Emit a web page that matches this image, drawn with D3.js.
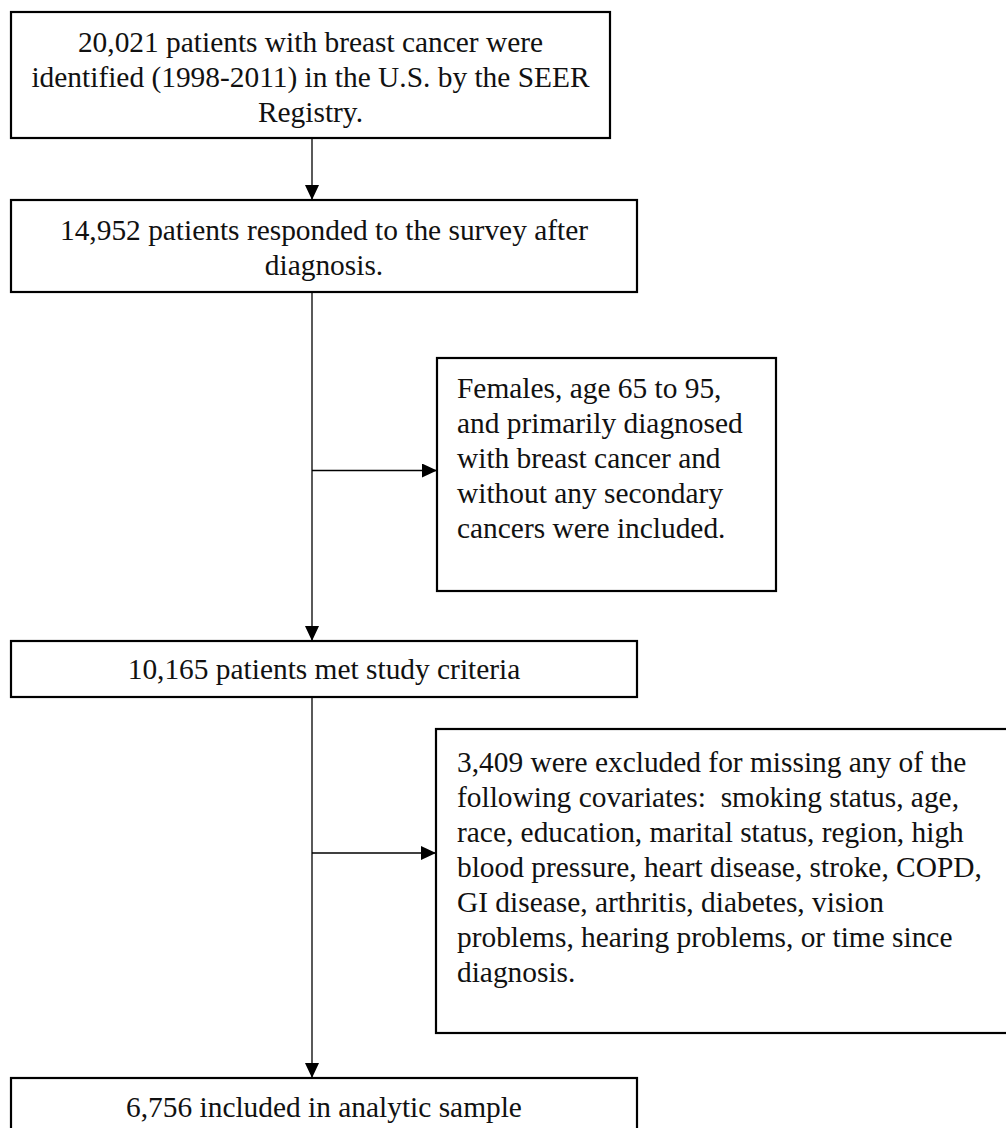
<!DOCTYPE html>
<html>
<head>
<meta charset="utf-8">
<script src="https://cdn.jsdelivr.net/npm/d3@7"></script>
<style>
html,body{margin:0;padding:0;background:#fff;overflow:hidden;}
svg text{font-family:"Liberation Serif","Times New Roman",serif;font-size:29.4px;fill:#111;white-space:pre;}
</style>
</head>
<body>
<svg id="c" width="1006" height="1128"></svg>
<script>
// ---- content ----
const box1Lines = ["20,021 patients with breast cancer were", "identified (1998-2011) in the U.S. by the SEER", "Registry."];
const box2Lines = ["14,952 patients responded to the survey after", "diagnosis."];
const side1Lines = ["Females, age 65 to 95,", "and primarily diagnosed", "with breast cancer and", "without any secondary", "cancers were included."];
const box3Lines = ["10,165 patients met study criteria"];
const side2Lines = ["3,409 were excluded for missing any of the", "following covariates:  smoking status, age,", "race, education, marital status, region, high", "blood pressure, heart disease, stroke, COPD,", "GI disease, arthritis, diabetes, vision", "problems, hearing problems, or time since", "diagnosis."];
const box4Lines = ["6,756 included in analytic sample"];

// ---- layout ----
const svg = d3.select("#c");
const lineH = 35;
const spineX = 312;
const boxes = [
  {lines: box1Lines, x0: 11, x1: 610, y0: 12, y1: 138, align: "middle", ty: 42},
  {lines: box2Lines, x0: 11, x1: 637, y0: 200, y1: 292, align: "middle", ty: 230},
  {lines: side1Lines, x0: 437, x1: 776, y0: 358, y1: 591, align: "start", ty: 388, tx: 457},
  {lines: box3Lines, x0: 11, x1: 637, y0: 641, y1: 697, align: "middle", ty: 669},
  {lines: side2Lines, x0: 436, x1: 1012, y0: 729, y1: 1033, align: "start", ty: 762, tx: 457},
  {lines: box4Lines, x0: 11, x1: 637, y0: 1078, y1: 1140, align: "middle", ty: 1107}
];

const defs = svg.append("defs");
defs.append("marker").attr("id", "ah")
  .attr("viewBox", "0 0 15 14").attr("refX", 15).attr("refY", 7)
  .attr("markerWidth", 15).attr("markerHeight", 14)
  .attr("markerUnits", "userSpaceOnUse").attr("orient", "auto")
  .append("path").attr("d", "M0,0 L15,7 L0,14 Z").attr("fill", "#000");

// connectors
const conns = [
  [[spineX, 138], [spineX, 200]],
  [[spineX, 292], [spineX, 641]],
  [[spineX, 470.5], [437, 470.5]],
  [[spineX, 697], [spineX, 1078]],
  [[spineX, 853], [436, 853]]
];
svg.selectAll("path.conn").data(conns).join("path")
  .attr("class", "conn")
  .attr("d", d => d3.line()(d))
  .attr("stroke", "#000").attr("stroke-width", 1.3).attr("fill", "none")
  .attr("marker-end", "url(#ah)");

// boxes
const g = svg.selectAll("g.box").data(boxes).join("g").attr("class", "box");
g.append("rect")
  .attr("x", d => d.x0).attr("y", d => d.y0)
  .attr("width", d => d.x1 - d.x0).attr("height", d => d.y1 - d.y0)
  .attr("fill", "#fff").attr("stroke", "#000").attr("stroke-width", 2.2);
g.each(function(d) {
  const tx = d.align === "middle" ? (d.x0 + d.x1) / 2 : d.tx;
  d3.select(this).selectAll("text").data(d.lines).join("text")
    .attr("x", tx)
    .attr("y", (l, i) => d.ty + i * lineH)
    .attr("text-anchor", d.align)
    .attr("dominant-baseline", "central")
    .text(l => l);
});
</script>
</body>
</html>
